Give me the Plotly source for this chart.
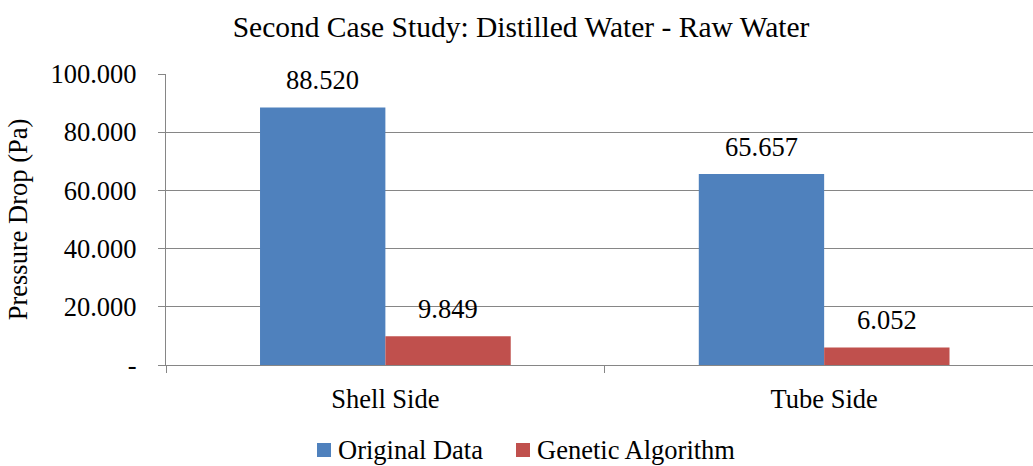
import plotly.graph_objects as go

categories = ["Shell Side", "Tube Side"]
original_data = [88.520, 65.657]
genetic_algorithm = [9.849, 6.052]
series_names = ["Original Data", "Genetic Algorithm"]
series_colors = ["#4F81BD", "#C0504D"]
y_tickvals = [0, 20, 40, 60, 80, 100]
y_ticktext = ["-", "20.000", "40.000", "60.000", "80.000", "100.000"]

FONT = "Times New Roman, Liberation Serif, serif"
FS = 26.5
TITLE_FS = 29.5
BAR_OFFSET_PX = 62.7

W, H = 1033, 466
ML, MR, MT, MB = 166, 0, 74, 101
PW, PH = W - ML - MR, H - MT - MB


def px_to_paper_x(px):
    return (px - ML) / PW


def px_to_paper_y(py):
    return (H - MB - py) / PH


fig = go.Figure()
all_series = [original_data, genetic_algorithm]
for name, vals, col in zip(series_names, all_series, series_colors):
    fig.add_trace(go.Bar(x=categories, y=vals, name=name, marker_color=col,
                         marker_line_width=0, showlegend=False))

for si, vals in enumerate(all_series):
    for cat, v in zip(categories, vals):
        fig.add_annotation(x=cat, y=v, text=f"{v:.3f}", showarrow=False,
                           xshift=(-1 if si == 0 else 1) * BAR_OFFSET_PX,
                           yshift=27, yanchor="middle",
                           font=dict(family=FONT, size=FS, color="black"))

# custom legend (square swatch + label), laid out like the reference
legend_swatch_left = [317, 516]
legend_y = 450
sw = 14
for name, col, lx in zip(series_names, series_colors, legend_swatch_left):
    fig.add_shape(type="rect", xref="paper", yref="paper",
                  x0=px_to_paper_x(lx), x1=px_to_paper_x(lx + sw),
                  y0=px_to_paper_y(legend_y + sw / 2), y1=px_to_paper_y(legend_y - sw / 2),
                  fillcolor=col, line=dict(width=0))
    fig.add_annotation(xref="paper", yref="paper", x=px_to_paper_x(lx + sw + 5),
                       y=px_to_paper_y(legend_y), xanchor="left", yanchor="middle",
                       text=name, showarrow=False,
                       font=dict(family=FONT, size=FS, color="black"))

fig.update_layout(
    width=W, height=H,
    margin=dict(l=ML, r=MR, t=MT, b=MB, autoexpand=False),
    paper_bgcolor="white", plot_bgcolor="white",
    barmode="group", bargap=1.5 / 3.5, bargroupgap=0,
    font=dict(family=FONT, size=FS, color="black"),
    showlegend=False,
    title=dict(text="Second Case Study: Distilled Water - Raw Water",
               x=521 / W, xref="container", xanchor="center",
               y=1 - 27 / H, yref="container", yanchor="middle",
               font=dict(family=FONT, size=TITLE_FS, color="black")),
)
fig.update_xaxes(range=[-0.5, 1.476], showline=True, linecolor="#868686", linewidth=1.3,
                 ticks="outside", tickson="boundaries", ticklen=7, tickcolor="#868686",
                 tickwidth=1.3, showgrid=False, ticklabelstandoff=10, automargin=False,
                 tickfont=dict(family=FONT, size=FS, color="black"))
fig.update_yaxes(range=[0, 100], tickvals=y_tickvals, ticktext=y_ticktext,
                 showline=True, linecolor="#868686", linewidth=1.3,
                 ticks="outside", ticklen=7, tickcolor="#868686", tickwidth=1.3,
                 showgrid=True, gridcolor="#868686", gridwidth=1.3, zeroline=False,
                 ticklabelstandoff=16, automargin=False,
                 tickfont=dict(family=FONT, size=FS, color="black"),
                 title=dict(text="Pressure Drop (Pa)", standoff=15,
                            font=dict(family=FONT, size=FS, color="black")))

fig.write_html("out.html", config={"displayModeBar": False},
               post_script="document.body.style.margin='0';")
